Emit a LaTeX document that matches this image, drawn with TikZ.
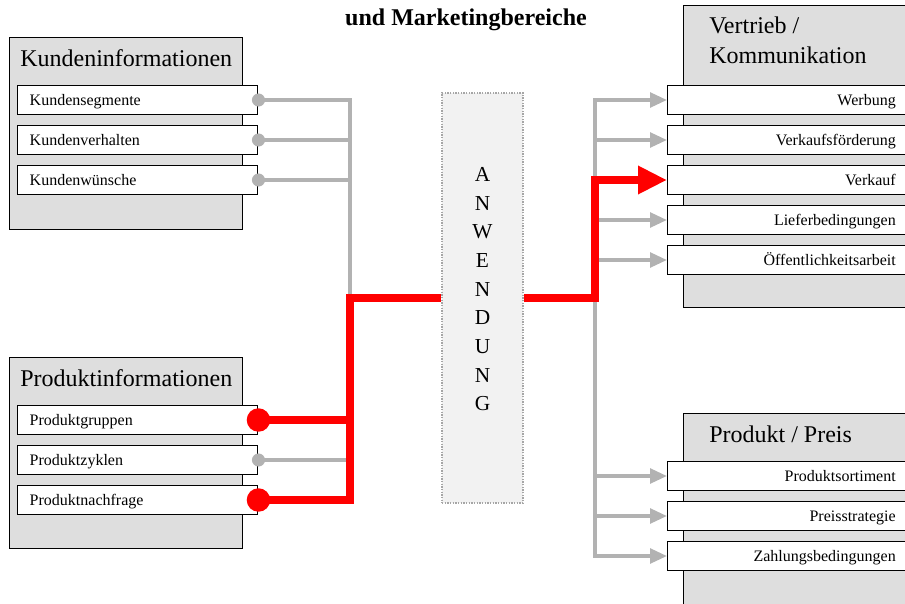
\documentclass[tikz,border=0pt]{standalone}
\usepackage{fontspec}
\setmainfont{Liberation Serif}
\usetikzlibrary{arrows.meta}

\begin{document}
\begin{tikzpicture}[x=0.75pt, y=-0.75pt, every node/.style={inner sep=0pt},
  bereich/.style={draw, line width=1.1pt, fill=black!13, minimum width=174.75pt, anchor=north west},
  kopf/.style={anchor=base west, font=\fontsize{18}{22.5}\selectfont},
  feld/.style={draw, line width=1.1pt, fill=white, minimum height=21.75pt, text width=162pt,
    inner xsep=9pt, text height=10pt, text depth=1.5pt, anchor=west, font=\fontsize{12}{14}\selectfont},
  grau/.style={draw=black!30, line width=2.7pt},
  rot/.style={draw=red, line width=5.5pt}]
\useasboundingbox (0,0) rectangle (905,603);
\clip (0,0) rectangle (905,603);

\node[font=\bfseries\fontsize{18}{21}\selectfont, anchor=base] (titel) at (466,25) {und Marketingbereiche};

% Kundeninformationen
\node[bereich, minimum height=144pt] (kunden) at (9,37) {};
\node[kopf] (kundenkopf) at (20,66) {Kundeninformationen};
\node[feld, align=left] (kseg) at (17,100) {Kundensegmente};
\node[feld, align=left] (kverh) at (17,140) {Kundenverhalten};
\node[feld, align=left] (kwun) at (17,180) {Kundenwünsche};

% Produktinformationen
\node[bereich, minimum height=143.25pt] (produkt) at (9,357) {};
\node[kopf] (produktkopf) at (20,386) {Produktinformationen};
\node[feld, align=left] (pgrp) at (17,420) {Produktgruppen};
\node[feld, align=left] (pzyk) at (17,460) {Produktzyklen};
\node[feld, align=left] (pnach) at (17,500) {Produktnachfrage};

% Anwendung
\node[draw=black!35, densely dotted, line width=1pt, fill=black!5, minimum width=60.75pt, minimum height=307.5pt] (anw) at (482.5,298) {};
\node[anchor=north, align=center, font=\fontsize{16}{21.5}\selectfont] (anwtext) at (482.5,167) {A\\N\\W\\E\\N\\D\\U\\N\\G};

% Vertrieb / Kommunikation
\node[bereich, minimum height=226.5pt] (vertrieb) at (683,5) {};
\node[anchor=north west, align=left, font=\fontsize{18}{22.5}\selectfont] (vertriebkopf) at (709,17) {Vertrieb /\\Kommunikation};
\node[feld, align=right] (werb) at (667,100) {Werbung};
\node[feld, align=right] (vfoe) at (667,140) {Verkaufsförderung};
\node[feld, align=right] (verk) at (667,180) {Verkauf};
\node[feld, align=right] (lief) at (667,220) {Lieferbedingungen};
\node[feld, align=right] (oeff) at (667,260) {Öffentlichkeitsarbeit};

% Produkt / Preis
\node[bereich, minimum height=150pt] (preis) at (683,413) {};
\node[kopf] (preiskopf) at (709,442) {Produkt / Preis};
\node[feld, align=right] (psort) at (667,476) {Produktsortiment};
\node[feld, align=right] (pstrat) at (667,516) {Preisstrategie};
\node[feld, align=right] (zahl) at (667,556) {Zahlungsbedingungen};

\coordinate (jl) at (350,298);
\coordinate (jr) at (595,298);

% Verbindungen
\foreach \n in {kseg,kverh,kwun}
  \draw[grau] (\n.east) -| (jl);
\draw[grau] (pzyk.east) -- (pzyk.east -| jl);
\foreach \n in {werb,vfoe,lief,oeff,psort,pstrat,zahl}
  \draw[grau, -{Triangle[length=12.75pt, width=11pt]}] (jr) |- (\n.west);

\draw[rot] (pgrp.east) -| (jl) -- (anw.west);
\draw[rot] (pnach.east) -| (jl);
\draw[rot, -{Triangle[length=21.75pt, width=20pt]}] (anw.east) -- (jr) |- (verk.west);

\foreach \n in {kseg,kverh,kwun,pzyk}
  \fill[black!30] (\n.east) circle (4.9pt);
\foreach \n in {pgrp,pnach}
  \fill[red] (\n.east) circle (8.8pt);

\end{tikzpicture}
\end{document}
